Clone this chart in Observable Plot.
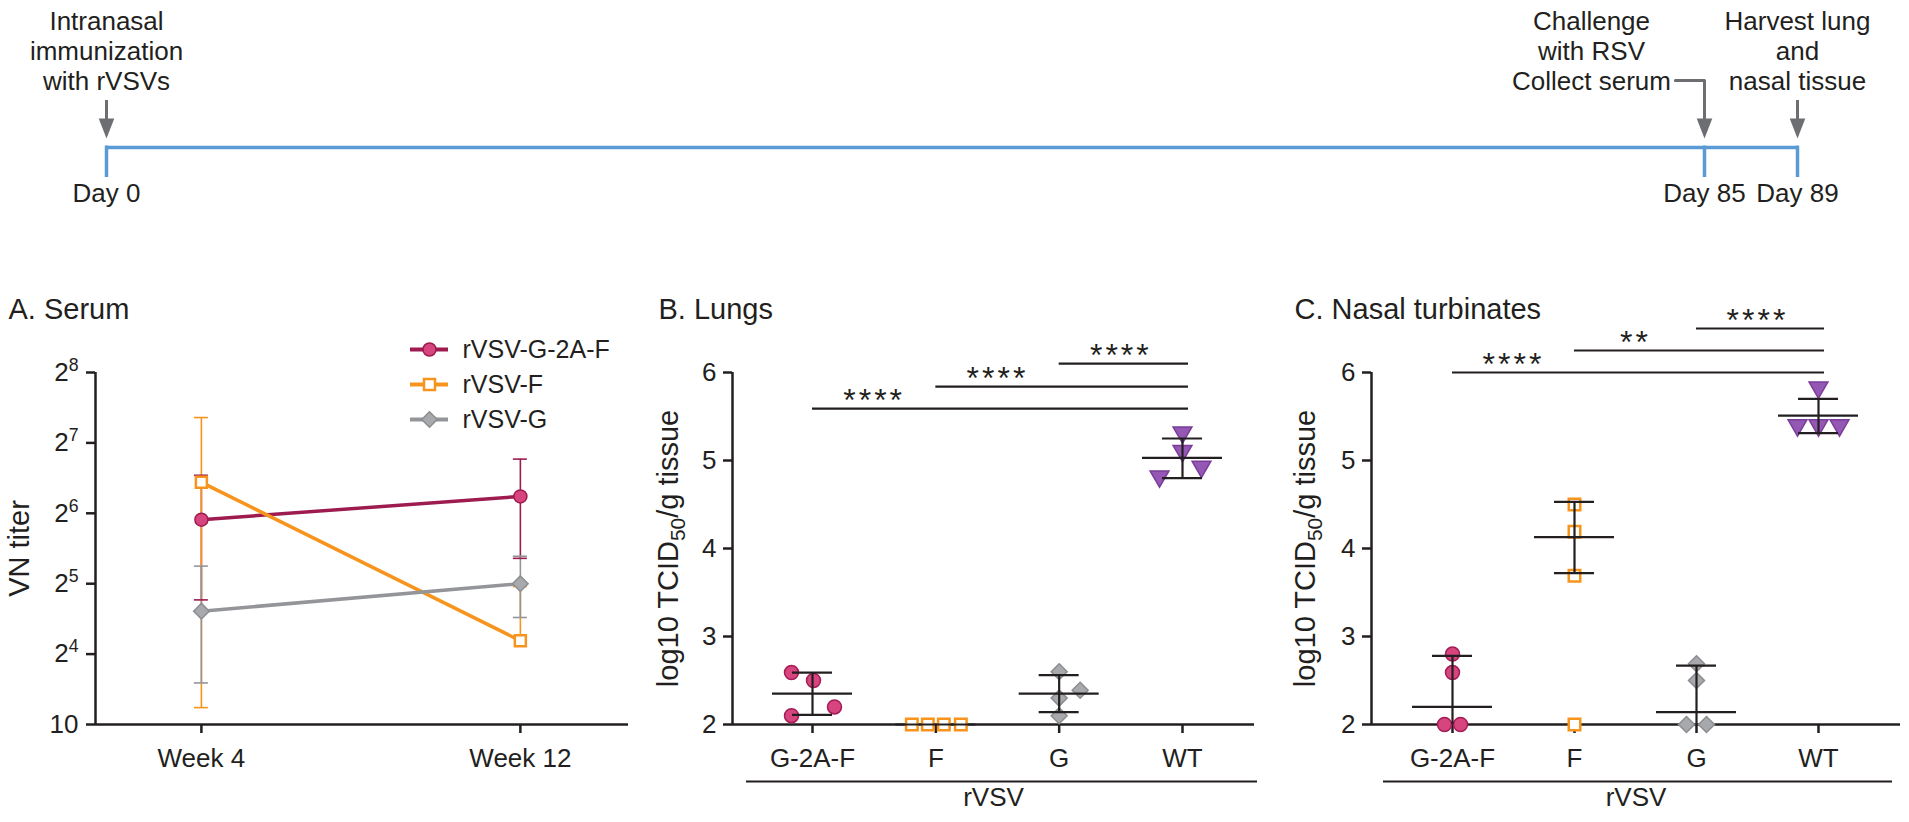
<!DOCTYPE html>
<html><head><meta charset="utf-8">
<script src="https://cdn.jsdelivr.net/npm/d3@7"></script>
<script src="https://cdn.jsdelivr.net/npm/@observablehq/plot@0.6"></script>
<style>
html,body{margin:0;padding:0;background:#fff;}
#fig{position:relative;width:1909px;height:822px;overflow:hidden;background:#fff;}
</style></head><body><div id="fig"></div>
<script>
// ---------------- data ----------------
const timelineDays = [0, 85, 89];
const timelineEvents = [
  {day: 0, label: "Intranasal\nimmunization\nwith rVSVs"},
  {day: 85, label: "Challenge\nwith RSV\nCollect serum"},
  {day: 89, label: "Harvest lung\nand\nnasal tissue"}
];

const weeks = ["Week 4", "Week 12"];
const serumSeries = ["rVSV-G-2A-F", "rVSV-F", "rVSV-G"];
// log2 VN titer (mean, lower and upper error) per week
const serumMean = {"rVSV-G-2A-F": [5.91, 6.24], "rVSV-F": [6.44, 4.19], "rVSV-G": [4.61, 5.00]};
const serumLow  = {"rVSV-G-2A-F": [4.77, 5.36], "rVSV-F": [3.24, null], "rVSV-G": [3.59, 4.52]};
const serumHigh = {"rVSV-G-2A-F": [6.54, 6.77], "rVSV-F": [7.36, 4.96], "rVSV-G": [5.25, 5.39]};
const serumTickValues = [3, 4, 5, 6, 7, 8];
const serumTickLabels = ["10", "2^4", "2^5", "2^6", "2^7", "2^8"];

const groups = ["G-2A-F", "F", "G", "WT"];
const tissueTicks = [2, 3, 4, 5, 6];
// log10 TCID50/g, individual animals
const lungValues  = [[2.59, 2.50, 2.20, 2.10], [2.0, 2.0, 2.0, 2.0], [2.60, 2.39, 2.30, 2.10], [5.32, 5.11, 4.93, 4.82]];
const lungMean    = [2.35, 2.0, 2.35, 5.03];
const lungLow     = [2.11, null, 2.14, 4.80];
const lungHigh    = [2.59, null, 2.56, 5.25];
const lungSig = [
  {from: 0, to: 3, label: "****", y: 5.59},
  {from: 1, to: 3, label: "****", y: 5.84},
  {from: 2, to: 3, label: "****", y: 6.10}
];
const nasalValues = [[2.80, 2.59, 2.0, 2.0], [4.50, 4.19, 3.69, 2.0], [2.69, 2.50, 2.0, 2.0], [5.83, 5.40, 5.40, 5.40]];
const nasalMean   = [2.20, 4.13, 2.14, 5.51];
const nasalLow    = [null, 3.72, null, 5.31];
const nasalHigh   = [2.78, 4.53, 2.67, 5.70];
const nasalSig = [
  {from: 0, to: 3, label: "****", y: 6.00},
  {from: 1, to: 3, label: "**", y: 6.25},
  {from: 2, to: 3, label: "****", y: 6.50}
];

// ---------------- layout / style ----------------
const lungJitterPx  = [[-21, 1, 22, -21], [-24, -8, 8, 25], [0, 21, 0, 0], [0, 0, 19, -23]];
const nasalJitterPx = [[0, 0, -8, 8], [0, 0, 0, 0], [0, 0, -10, 10], [0, -21, 0, 21]];

const FONT = '"Liberation Sans", Arial, Helvetica, sans-serif';
const INK = "#231f20";
const BLUE = "#5b9bd5";
const ARROW = "#6d6e71";
const baseStyle = {fontFamily: FONT, fontSize: "26px", color: INK, background: "transparent", overflow: "visible"};
const fig = document.getElementById("fig");
function place(el, left, top) {
  el.style.position = "absolute";
  el.style.left = left + "px";
  el.style.top = top + "px";
  el.style.maxWidth = "none";
  fig.appendChild(el);
  richText(el);
  return el;
}
function richText(svg) {
  d3.select(svg).selectAll("text").each(function () {
    if (this.querySelector("tspan")) return;
    const s = this.textContent;
    if (/^\*+$/.test(s)) { this.style.letterSpacing = "3px"; return; }
    const parts = s.split(/(\^\d+|_\{\d+\})/).filter(p => p !== "");
    if (parts.length < 2) return;
    this.textContent = "";
    let shift = 0;
    for (const p of parts) {
      const ts = d3.select(this).append("tspan");
      let target = 0, txt = p, size = null;
      if (p.startsWith("^")) { target = -10; txt = p.slice(1); size = "0.68em"; }
      else if (p.startsWith("_{")) { target = 7; txt = p.slice(2, -1); size = "0.72em"; }
      ts.attr("dy", target - shift).text(txt);
      if (size) ts.attr("font-size", size);
      shift = target;
    }
  });
}
const arrowHead = {draw(ctx, size) {
  const r = Math.sqrt(size / Math.PI);
  ctx.moveTo(0, r); ctx.lineTo(-0.78 * r, -r); ctx.lineTo(0.78 * r, -r); ctx.closePath();
}};
const triangleDown = {draw(ctx, size) {
  const s = Math.sqrt(size * 4 / Math.sqrt(3)), h = s * Math.sqrt(3) / 2;
  ctx.moveTo(0, 2 * h / 3); ctx.lineTo(-s / 2, -h / 3); ctx.lineTo(s / 2, -h / 3); ctx.closePath();
}};

// ---------------- timeline ----------------
const timeline = Plot.plot({
  width: 1909, height: 230, margin: 0,
  x: {type: "linear", domain: timelineDays, range: [106, 1704, 1797], axis: null},
  y: {type: "linear", domain: [0, 147], range: [147, 0], axis: null},
  style: baseStyle,
  marks: [
    Plot.ruleY([0], {x1: timelineDays[0], x2: timelineDays[timelineDays.length - 1], stroke: BLUE, strokeWidth: 3.5}),
    Plot.ruleX(timelineDays, {x: d => d, y1: 1.5, y2: -30, stroke: BLUE, strokeWidth: 3.5}),
    Plot.text(timelineDays, {x: d => d, y: -46, text: d => `Day ${d}`, fontSize: 26}),
    Plot.ruleX([timelineDays[0], timelineDays[2]], {x: d => d, y1: 47, y2: 22, stroke: ARROW, strokeWidth: 3}),
    Plot.line([[83.45, 67], [85, 67], [85, 22]], {x: d => d[0], y: d => d[1], stroke: ARROW, strokeWidth: 3}),
    Plot.dot(timelineDays, {x: d => d, y: 19, symbol: arrowHead, r: 10, fill: ARROW}),
    Plot.text(timelineEvents.filter(e => e.day !== 85), {x: "day", text: "label", frameAnchor: "top", lineAnchor: "top", dy: 8, lineHeight: 1.15, fontSize: 26}),
    Plot.text(timelineEvents.filter(e => e.day === 85), {x: "day", text: "label", frameAnchor: "top", lineAnchor: "top", dy: 8, dx: -113, lineHeight: 1.15, fontSize: 26})
  ]
});
place(timeline, 0, 0);

// ---------------- panel A: serum ----------------
const serumColors = ["#9e1b50", "#f7941d", "#939598"];
const serumMarker = {
  "rVSV-G-2A-F": {symbol: "circle", fill: "#d6457e", stroke: "#9e1b50", r: 6.5, strokeWidth: 1.5},
  "rVSV-F": {symbol: "square", fill: "white", stroke: "#f7941d", r: 6.2, strokeWidth: 2.5},
  "rVSV-G": {symbol: "diamond2", fill: "#a7a9ac", stroke: "#8c8d90", r: 7, strokeWidth: 1.5}
};
const serumRows = serumSeries.flatMap(s => weeks.map((w, i) => ({
  series: s, week: i, mean: serumMean[s][i], lo: serumLow[s][i], hi: serumHigh[s][i]
})));
const xDomA = [-0.332, 1.339];
const panelA = Plot.plot({
  width: 640, height: 592, marginTop: 142, marginBottom: 98, marginLeft: 95, marginRight: 12,
  x: {domain: xDomA},
  y: {domain: [3, 8]},
  color: {domain: serumSeries, range: serumColors},
  style: baseStyle,
  marks: [
    Plot.axisY({ticks: serumTickValues, tickFormat: d => serumTickLabels[serumTickValues.indexOf(d)], tickSize: 9, tickPadding: 8, strokeWidth: 2.5, label: null, fontSize: 26}),
    Plot.axisX({ticks: [0, 1], tickFormat: i => weeks[i], tickSize: 9, tickPadding: 15, strokeWidth: 2.5, label: null, fontSize: 26}),
    Plot.ruleX([xDomA[0]], {stroke: INK, strokeWidth: 2.5}),
    Plot.ruleY([3], {stroke: INK, strokeWidth: 2.5}),
    Plot.ruleX(serumRows, {x: "week", y1: d => d.lo ?? d.mean, y2: "hi", stroke: "series", strokeWidth: 1.6}),
    Plot.ruleY(serumRows, {x1: "week", x2: "week", y: "hi", stroke: "series", strokeWidth: 1.6, insetLeft: -7, insetRight: -7}),
    Plot.ruleY(serumRows.filter(d => d.lo != null), {x1: "week", x2: "week", y: "lo", stroke: "series", strokeWidth: 1.6, insetLeft: -7, insetRight: -7}),
    Plot.line(serumRows, {x: "week", y: "mean", z: "series", stroke: "series", strokeWidth: 3.5}),
    ...serumSeries.map(s => Plot.dot(serumRows.filter(d => d.series === s), {x: "week", y: "mean", ...serumMarker[s]})),
    Plot.text(["VN titer"], {frameAnchor: "left", textAnchor: "middle", rotate: -90, dx: -76, fontSize: 29}),
    Plot.text(["A. Serum"], {frameAnchor: "top-left", textAnchor: "start", dx: -87, dy: -74, fontSize: 29})
  ]
});
place(panelA, 0, 230);

const legend = Plot.plot({
  width: 260, height: 110, margin: 0,
  x: {domain: [0, 1], range: [10, 48], axis: null},
  y: {type: "point", domain: serumSeries, range: [19, 89], padding: 0, axis: null},
  color: {domain: serumSeries, range: serumColors},
  style: baseStyle,
  marks: [
    Plot.ruleY(serumSeries, {y: d => d, x1: 0, x2: 1, stroke: d => d, strokeWidth: 4}),
    ...serumSeries.map(s => Plot.dot([s], {x: 0.5, y: d => d, ...serumMarker[s]})),
    Plot.text(serumSeries, {x: 1, y: d => d, text: d => d, dx: 14, textAnchor: "start", fontSize: 25})
  ]
});
place(legend, 400, 330);

// ---------------- panels B and C ----------------
const groupMarker = [
  {symbol: "circle", fill: "#d6457e", stroke: "#a51c56", r: 7, strokeWidth: 1.5},
  {symbol: "square", fill: "white", stroke: "#f7941d", r: 6.5, strokeWidth: 2.5},
  {symbol: "diamond2", fill: "#a7a9ac", stroke: "#8c8d90", r: 7.2, strokeWidth: 1.5},
  {symbol: triangleDown, fill: "#9457b3", stroke: "#7a3d99", r: 7, strokeWidth: 1.5}
];
function tissuePanel(o) {
  const step = (o.lastCat - o.firstCat) / (groups.length - 1);
  const dom = [-(o.firstCat - o.axisX) / step, groups.length - 1 + (o.axisEnd - o.lastCat) / step];
  const pts = o.values.flatMap((vals, g) => vals.map((v, k) => ({g, v, x: g + o.jitter[g][k] / step})));
  const summ = groups.map((name, g) => ({g, mean: o.mean[g], lo: o.low[g], hi: o.high[g]}));
  const yMin = tissueTicks[0];
  return Plot.plot({
    width: o.width, height: 592, marginTop: 142, marginBottom: 98,
    marginLeft: o.axisX - o.left, marginRight: o.left + o.width - o.axisEnd,
    x: {domain: dom},
    y: {domain: [yMin, tissueTicks[tissueTicks.length - 1]]},
    style: baseStyle,
    marks: [
      Plot.axisY({ticks: tissueTicks, tickFormat: d => String(d), tickSize: 9, tickPadding: 7, strokeWidth: 2.5, label: null, fontSize: 26}),
      Plot.axisX({ticks: groups.map((d, i) => i), tickFormat: i => groups[i], tickSize: 9, tickPadding: 15, strokeWidth: 2.5, label: null, fontSize: 26}),
      Plot.ruleX([dom[0]], {stroke: INK, strokeWidth: 2.5}),
      Plot.ruleY([yMin], {stroke: INK, strokeWidth: 2.5}),
      ...groupMarker.map((m, g) => Plot.dot(pts.filter(d => d.g === g), {x: "x", y: "v", ...m})),
      Plot.ruleX(summ.filter(d => d.hi != null), {x: "g", y1: d => d.lo ?? yMin, y2: "hi", stroke: INK, strokeWidth: 2.2}),
      Plot.ruleY(summ.filter(d => d.hi != null), {x1: "g", x2: "g", y: "hi", stroke: INK, strokeWidth: 2.2, insetLeft: -20, insetRight: -20}),
      Plot.ruleY(summ.filter(d => d.lo != null), {x1: "g", x2: "g", y: "lo", stroke: INK, strokeWidth: 2.2, insetLeft: -20, insetRight: -20}),
      Plot.ruleY(summ, {x1: "g", x2: "g", y: "mean", stroke: INK, strokeWidth: 2.2, insetLeft: -40, insetRight: -40}),
      Plot.ruleY(o.sig, {x1: "from", x2: "to", y: "y", stroke: INK, strokeWidth: 2.2, insetRight: -6}),
      Plot.text(o.sig, {x: d => d.from + 0.5, y: "y", text: "label", dy: -8, fontSize: 32}),
      Plot.ruleY([yMin], {dy: 57, insetLeft: o.ulLeft, insetRight: o.ulRight, stroke: INK, strokeWidth: 2.2}),
      Plot.text(["rVSV"], {frameAnchor: "bottom", dy: 81, fontSize: 26}),
      Plot.text(["log10 TCID_{50}/g tissue"], {frameAnchor: "left", textAnchor: "middle", rotate: -90, dx: o.labelDx, fontSize: 29}),
      Plot.text([o.title], {frameAnchor: "top-left", textAnchor: "start", dx: o.titleDx, dy: -74, fontSize: 29})
    ]
  });
}
const panelB = tissuePanel({
  title: "B. Lungs", values: lungValues, jitter: lungJitterPx, mean: lungMean, low: lungLow, high: lungHigh, sig: lungSig,
  left: 600, width: 660, axisX: 732, firstCat: 812, lastCat: 1182, axisEnd: 1254,
  ulLeft: 14, ulRight: -3, labelDx: -64, titleDx: -74
});
place(panelB, 600, 230);
const panelC = tissuePanel({
  title: "C. Nasal turbinates", values: nasalValues, jitter: nasalJitterPx, mean: nasalMean, low: nasalLow, high: nasalHigh, sig: nasalSig,
  left: 1250, width: 659, axisX: 1371, firstCat: 1452, lastCat: 1818, axisEnd: 1900,
  ulLeft: 12, ulRight: 8, labelDx: -66, titleDx: -77
});
place(panelC, 1250, 230);
</script></body></html>
